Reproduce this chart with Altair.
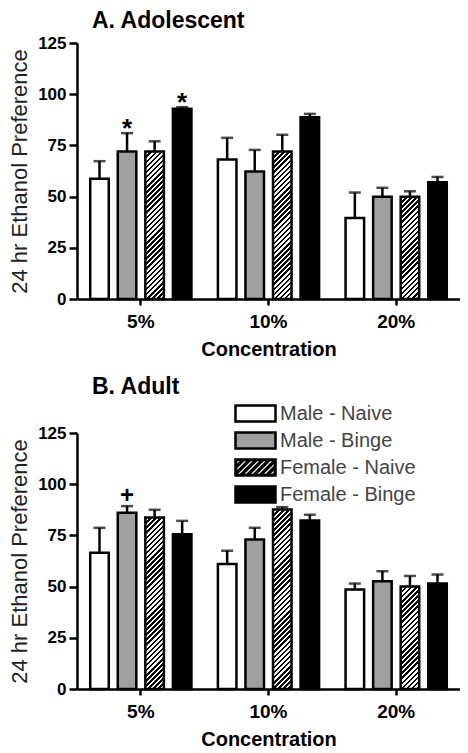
import math
import altair as alt
import pandas as pd

# ---------------- data ----------------
concentrations = ["5%", "10%", "20%"]
groups = ["Male - Naive", "Male - Binge", "Female - Naive", "Female - Binge"]

adol_mean = [58.7, 72.0, 72.0, 92.9,
             68.1, 62.3, 72.0, 88.8,
             39.6, 49.9, 49.9, 57.0]
adol_sem = [8.6, 9.0, 5.0, 0.8,
            10.6, 10.5, 8.2, 1.6,
            12.4, 4.4, 2.7, 2.6]
adol_sig = ["", "*", "", "*",
            "", "", "", "",
            "", "", "", ""]

adult_mean = [66.5, 86.0, 83.8, 75.6,
              61.0, 73.0, 87.7, 82.3,
              48.6, 52.6, 50.0, 51.5]
adult_sem = [12.2, 3.3, 3.7, 6.5,
             6.5, 5.7, 1.1, 2.8,
             2.9, 4.9, 5.2, 4.4]
adult_sig = ["", "+", "", "",
             "", "", "", "",
             "", "", "", ""]

# ---------------- styling / layout ----------------
FONT = "Liberation Sans"
GRAY = "#a0a0a0"
W, H = 383, 256
YMAX = 125
PAD_IN, PAD_OUT = 0.327, 0.48
LW = 2.5
HATCH = "Female - Naive"
BAR_FILL = {"Male - Naive": "white", "Male - Binge": GRAY, "Female - Binge": "black"}

step = (W / len(concentrations)) / (len(groups) - PAD_IN + 2 * PAD_OUT)
BAR_W = step * (1 - PAD_IN)


def hatch_gradient(w, h, period=3.6, frac=0.5):
    """Linear gradient (bbox units) whose hard stops draw 45-degree stripes."""
    c = (w + h) / (w * w + h * h)
    span = (w + h) / math.sqrt(2)
    n = span / period
    stops = []
    k = 0
    while k / n < 1:
        a = k / n
        b = min((k + frac) / n, 1.0)
        e = min((k + 1) / n, 1.0)
        stops += [{"offset": a, "color": "black"}, {"offset": b, "color": "black"},
                  {"offset": b, "color": "white"}, {"offset": e, "color": "white"}]
        k += 1
    return {"gradient": "linear", "x1": 0, "y1": 0, "x2": w * c, "y2": h * c,
            "stops": stops}


# legend swatch shapes (custom symbol paths, 1 unit = LEG_S/2 px)
LEG_S = 24
LEG_W, LEG_H = 40, 16
U = LEG_S / 2.0
RX, RY = LEG_W / 2.0, LEG_H / 2.0


def fmt(v):
    return "{:.3f}".format(v / U)


rect_path = "M{a},{b}H{c}V{d}H{a}Z".format(a=fmt(-RX), b=fmt(-RY), c=fmt(RX), d=fmt(RY))


def clip_half(poly, sgn, cval):
    # keep points with sgn*(x+y) <= sgn*cval
    out = []
    n = len(poly)
    for i in range(n):
        p, q = poly[i], poly[(i + 1) % n]
        fp = sgn * (p[0] + p[1] - cval)
        fq = sgn * (q[0] + q[1] - cval)
        if fp <= 0:
            out.append(p)
        if (fp < 0 < fq) or (fq < 0 < fp):
            t = fp / (fp - fq)
            out.append((p[0] + t * (q[0] - p[0]), p[1] + t * (q[1] - p[1])))
    return out


def hatch_path(hperiod=6.5, hole=5.2, inset=0.6):
    ix, iy = RX - inset, RY - inset
    inner = [(-ix, -iy), (ix, -iy), (ix, iy), (-ix, iy)]
    parts = [rect_path]
    cval = -(ix + iy) + 1.0
    while cval < ix + iy:
        poly = clip_half(inner, -1, cval)
        poly = clip_half(poly, 1, cval + hole)
        if len(poly) >= 3:
            area = sum(poly[i][0] * poly[(i + 1) % len(poly)][1]
                       - poly[(i + 1) % len(poly)][0] * poly[i][1] for i in range(len(poly)))
            if area > 0:
                poly = poly[::-1]
            parts.append("M" + "L".join("{},{}".format(fmt(p[0]), fmt(p[1])) for p in poly) + "Z")
        cval += hperiod
    return "".join(parts)


def panel(mean, sem, sig, title, show_legend):
    rows = []
    for i, c in enumerate(concentrations):
        for j, g in enumerate(groups):
            k = i * len(groups) + j
            rows.append({"conc": c, "group": g, "mean": mean[k],
                         "upper": mean[k] + sem[k], "sig": sig[k]})
    df = pd.DataFrame(rows)
    base = alt.Chart(df)

    x = alt.X("conc:N", sort=concentrations,
              scale=alt.Scale(domain=concentrations, paddingInner=0, paddingOuter=0),
              axis=alt.Axis(title="Concentration", labelAngle=0, labelFont=FONT,
                            labelFontSize=19, labelFontWeight="bold", labelColor="black",
                            labelPadding=7, tickSize=6, tickWidth=LW, tickColor="black",
                            domainWidth=LW, domainColor="black", titleFont=FONT,
                            titleFontSize=20, titleFontWeight="bold", titleColor="black",
                            titlePadding=8, grid=False))
    xo = alt.XOffset("group:N", sort=groups,
                     scale=alt.Scale(domain=groups, paddingInner=PAD_IN, paddingOuter=PAD_OUT))
    ticks = [v * 12.5 for v in range(11)]
    yscale = alt.Scale(domain=[0, YMAX], nice=False, zero=True)
    y = alt.Y("mean:Q", scale=yscale,
              axis=alt.Axis(title="24 hr Ethanol Preference", values=ticks,
                            labelExpr="datum.value % 25 === 0 ? format(datum.value, 'd') : ''",
                            tickSize={"condition": {"test": "datum.value % 25 === 0", "value": 8},
                                      "value": 4},
                            labelOverlap=False, labelFont=FONT, labelFontSize=17,
                            labelFontWeight="bold", labelColor="black", labelPadding=3,
                            tickWidth=LW, tickColor="black", domainWidth=LW,
                            domainColor="black", titleFont=FONT, titleFontSize=22,
                            titleFontWeight="normal", titleColor="#222", titlePadding=6,
                            grid=False))

    layers = [base.mark_rule(color="black", strokeWidth=LW).encode(
        x=x, xOffset=xo, y=y, y2="upper:Q")]

    for g, col in BAR_FILL.items():
        layers.append(base.transform_filter(alt.datum.group == g).mark_bar(
            fill=col, stroke="black", strokeWidth=LW).encode(x=x, xOffset=xo, y=y))

    for i, c in enumerate(concentrations):
        k = i * len(groups) + groups.index(HATCH)
        h = mean[k] * H / YMAX
        layers.append(
            base.transform_filter((alt.datum.group == HATCH) & (alt.datum.conc == c))
            .mark_bar(fill=hatch_gradient(BAR_W, h), stroke="black", strokeWidth=LW)
            .encode(x=x, xOffset=xo, y=y))

    yu = alt.Y("upper:Q", scale=yscale)
    layers.append(base.mark_tick(color="black", thickness=LW, size=12).encode(
        x=x, xOffset=xo, y=yu))
    layers.append(base.transform_filter(alt.datum.sig == "*").mark_text(
        font=FONT, fontSize=26, fontWeight="bold", color="black", baseline="alphabetic",
        dy=4).encode(x=x, xOffset=xo, y=yu, text="sig:N"))
    layers.append(base.transform_filter(alt.datum.sig == "+").mark_text(
        font=FONT, fontSize=24, fontWeight="bold", color="black", baseline="alphabetic",
        dy=-3).encode(x=x, xOffset=xo, y=yu, text="sig:N"))

    if show_legend:
        leg = alt.Legend(title=None, orient="none", legendX=165, legendY=-33,
                         direction="vertical", symbolSize=LEG_S * LEG_S,
                         symbolStrokeColor="black", symbolStrokeWidth=LW,
                         labelFont=FONT, labelFontSize=20, labelColor="#444",
                         rowPadding=0, labelOffset=11)
        shapes = [hatch_path() if g == HATCH else rect_path for g in groups]
        fills = ["black" if g == HATCH else BAR_FILL[g] for g in groups]
        layers.append(
            base.transform_filter("false").mark_point(
                filled=True, strokeWidth=LW, opacity=1).encode(
                x=x, xOffset=xo, y=y,
                fill=alt.Fill("group:N", sort=groups,
                              scale=alt.Scale(domain=groups, range=fills), legend=leg),
                stroke=alt.Stroke("group:N", sort=groups,
                                  scale=alt.Scale(domain=groups, range=["black"] * len(groups)),
                                  legend=leg),
                shape=alt.Shape("group:N", sort=groups,
                                scale=alt.Scale(domain=groups, range=shapes), legend=leg)))

    return alt.layer(*layers).properties(
        width=W, height=H,
        title=alt.TitleParams(text=title, anchor="start", frame="group", font=FONT,
                              fontSize=23, fontWeight="bold", color="black", dx=15,
                              offset=1))


top = panel(adol_mean, adol_sem, adol_sig, "A. Adolescent", False)
bottom = panel(adult_mean, adult_sem, adult_sig, "B. Adult", True)

chart = alt.vconcat(top, bottom, spacing=134, bounds="flush").resolve_scale(
    fill="independent", shape="independent", stroke="independent").resolve_legend(
    fill="independent", shape="independent", stroke="independent").configure_view(
    stroke=None).properties(padding={"left": 0, "top": 2, "right": 0, "bottom": 0})

chart.save("out.html", embed_options={"renderer": "svg", "actions": False})
